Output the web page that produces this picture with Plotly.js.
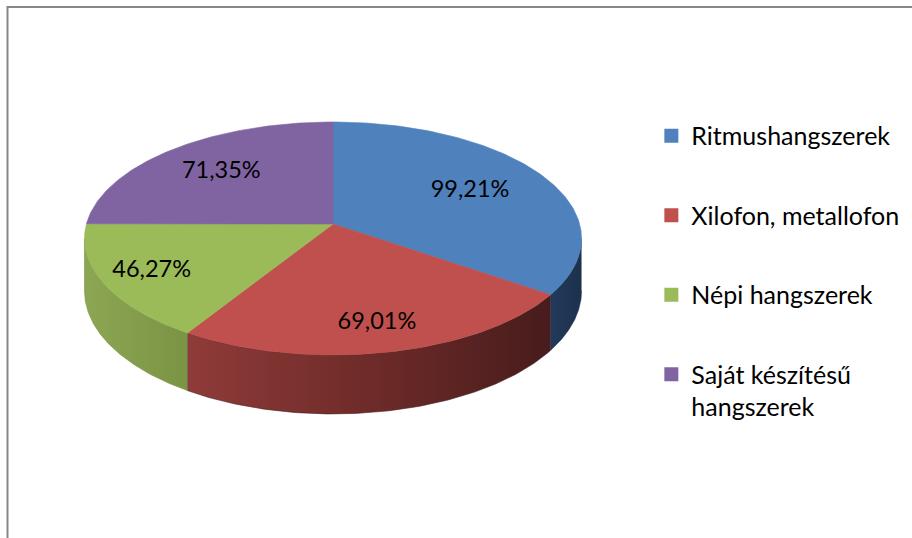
<!DOCTYPE html>
<html>
<head>
<meta charset="utf-8">
<script src="https://cdn.plot.ly/plotly-3.0.1.min.js"></script>
<style>html,body{margin:0;padding:0;background:#fff;}</style>
</head>
<body>
<div id="chart" style="width:912px;height:538px;"></div>
<script>
// ---- data ----
const categories = ["Ritmushangszerek", "Xilofon, metallofon", "Népi hangszerek", "Saját készítésű<br>hangszerek"];
const values = [99.21, 69.01, 46.27, 71.35];
const valueLabels = values.map(v => v.toFixed(2).replace('.', ',') + '%');

// ---- style ----
const topColors = ["#4f81bd", "#c0504d", "#9bbb59", "#8064a2"];
const wallGradients = [
  [[0, "#22395a"], [1, "#1c314d"]],
  [[0, "#8f3b39"], [0.5, "#6e2b29"], [1, "#471c1c"]],
  [[0, "#8ca654"], [1, "#7a9444"]],
  [[0, "#5f4a7a"], [1, "#4e3c66"]]
];
const labelRadius = [0.65, 0.8, 0.8, 0.68];
const FONT = "Lato, 'Open Sans', sans-serif";
// projection of the tilted disc (perspective)
const G = {cx: 333, cy: 224, A: 246.6, B: 114.7, k: 0.1244, H: 51.6};

function proj(theta, r, depth) {
  const x0 = r * Math.sin(theta), z0 = r * Math.cos(theta);
  const s = 1 / (1 + G.k * z0);
  return [G.cx + G.A * x0 * s, G.cy - G.B * z0 * s + depth * G.H * s];
}

const total = values.reduce((a, b) => a + b, 0);
const bounds = [];
let acc = 0;
values.forEach(v => { const a0 = acc / total * 2 * Math.PI; acc += v; bounds.push([a0, acc / total * 2 * Math.PI]); });

const visL = Math.acos(-G.k), visR = 2 * Math.PI - Math.acos(-G.k);
const traces = [];
const N = 120;

// walls (side of the pie)
bounds.forEach(([a0, a1], i) => {
  const t0 = Math.max(a0, visL), t1 = Math.min(a1, visR);
  if (t1 <= t0) return;
  const xs = [], ys = [];
  for (let j = 0; j <= N; j++) { const t = t0 + (t1 - t0) * j / N; const p = proj(t, 1, 0); xs.push(p[0]); ys.push(p[1]); }
  for (let j = N; j >= 0; j--) { const t = t0 + (t1 - t0) * j / N; const p = proj(t, 1, 1); xs.push(p[0]); ys.push(p[1]); }
  traces.push({type: 'scatter', mode: 'lines', x: xs, y: ys, fill: 'toself',
    fillgradient: {type: 'horizontal', colorscale: wallGradients[i]},
    line: {width: 0.6, color: wallGradients[i][wallGradients[i].length - 1][1]},
    hoverinfo: 'skip', showlegend: false});
});

// top faces
bounds.forEach(([a0, a1], i) => {
  const xs = [G.cx], ys = [G.cy];
  for (let j = 0; j <= N; j++) { const t = a0 + (a1 - a0) * j / N; const p = proj(t, 1, 0); xs.push(p[0]); ys.push(p[1]); }
  xs.push(G.cx); ys.push(G.cy);
  traces.push({type: 'scatter', mode: 'lines', x: xs, y: ys, fill: 'toself', fillcolor: topColors[i],
    line: {width: 0.6, color: topColors[i]}, name: categories[i], hoverinfo: 'name', showlegend: false});
});

// data labels
const lx = [], ly = [];
bounds.forEach(([a0, a1], i) => { const p = proj((a0 + a1) / 2, labelRadius[i], 0); lx.push(p[0]); ly.push(p[1]); });
traces.push({type: 'scatter', mode: 'text', x: lx, y: ly, text: valueLabels, textposition: 'middle center',
  textfont: {family: FONT, size: 23.5, color: '#000'}, hoverinfo: 'skip', showlegend: false});

// legend entries
categories.forEach((c, i) => {
  traces.push({type: 'scatter', mode: 'markers', x: [null], y: [null], name: c, legendgroup: 'g' + i,
    marker: {symbol: 'square', size: 14, color: topColors[i]}, showlegend: true});
});

const layout = {
  width: 912, height: 538,
  margin: {l: 0, r: 0, t: 0, b: 0},
  paper_bgcolor: '#fff', plot_bgcolor: '#fff',
  xaxis: {range: [0, 912], visible: false, fixedrange: true},
  yaxis: {range: [538, 0], visible: false, fixedrange: true},
  showlegend: true,
  legend: {x: 0.7142, y: 0.79, xanchor: 'left', yanchor: 'top', valign: 'top',
    font: {family: FONT, size: 25, color: '#000'}, tracegroupgap: 44, itemclick: false, bgcolor: 'rgba(0,0,0,0)'},
  shapes: [{type: 'path', xref: 'x', yref: 'y', path: 'M7.5,545 L7.5,7 L920,7', line: {color: '#878787', width: 2}}],
  font: {family: FONT}
};

Plotly.newPlot('chart', traces, layout, {staticPlot: true});
</script>
</body>
</html>
